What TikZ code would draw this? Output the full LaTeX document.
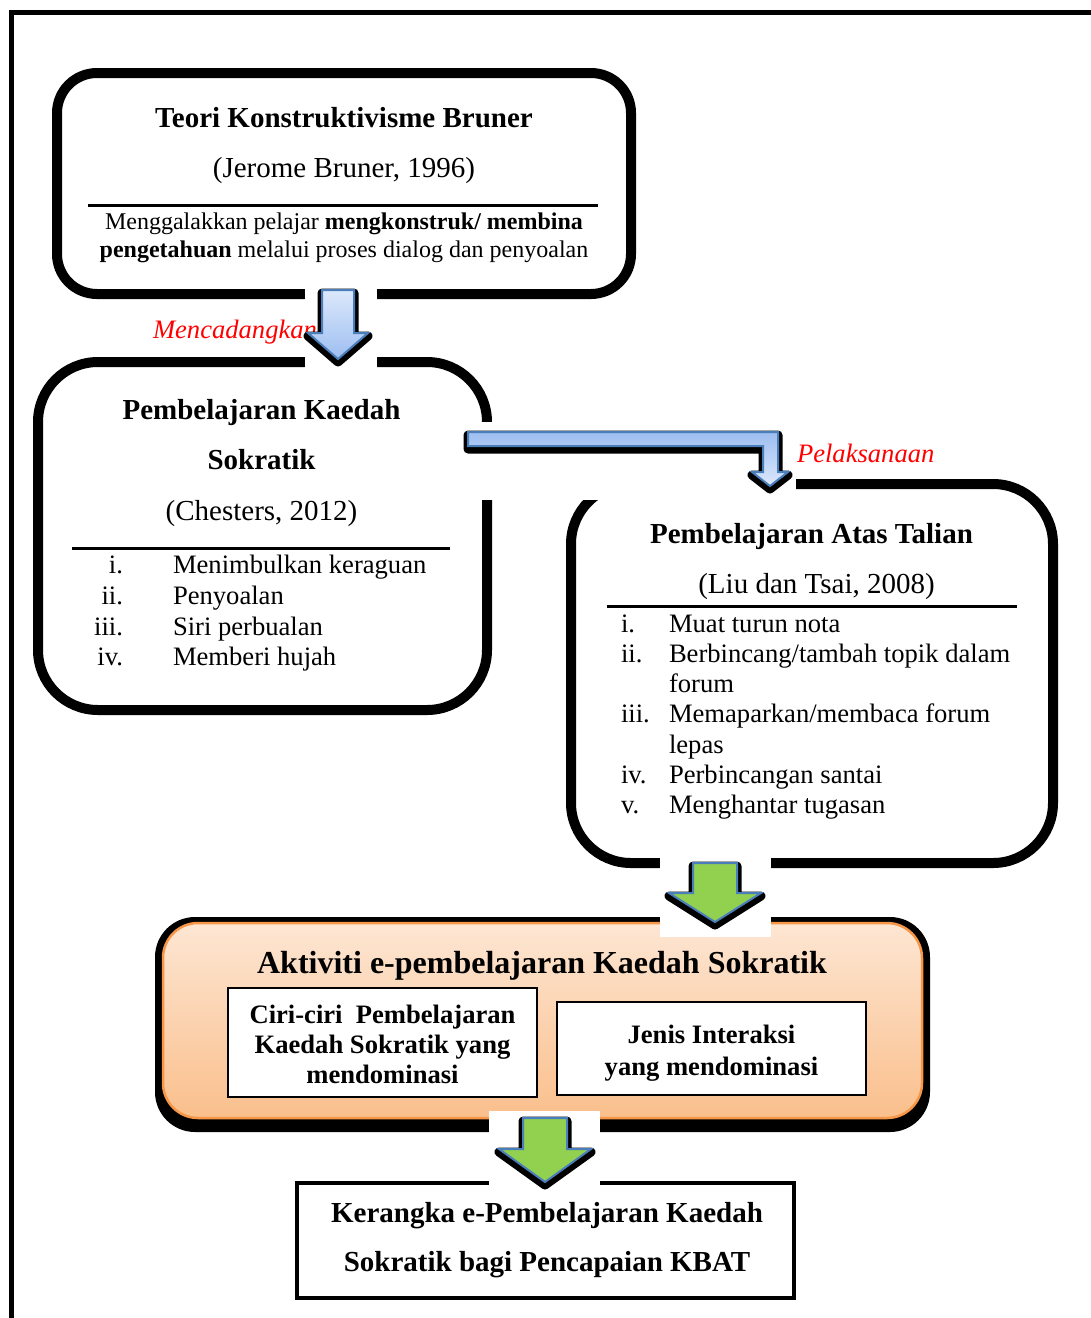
\documentclass[tikz,border=0pt]{standalone}
\usepackage{fontspec}
\setmainfont{Liberation Serif}
\definecolor{ablueA}{HTML}{DCE8FB}
\definecolor{ablueB}{HTML}{9DBEF1}
\definecolor{aline}{HTML}{4A7EBB}
\definecolor{agreen}{HTML}{92D050}
\definecolor{orgA}{HTML}{FDE6D3}
\definecolor{orgB}{HTML}{FABF8C}
\definecolor{orgLine}{HTML}{F79646}
\definecolor{lblred}{HTML}{FF0000}
\newcommand\fBody{\fontsize{26.6}{30}\selectfont}
\newcommand\fHead{\fontsize{29}{33}\selectfont}
\newcommand\fSmall{\fontsize{24}{28}\selectfont}
\newcommand\fBig{\fontsize{32}{36}\selectfont}
\begin{document}
\begin{tikzpicture}[x=1pt,y=-1pt,
  bigbox/.style={draw=black, line width=10pt, rounded corners=#1, inner sep=0pt, outer sep=0pt},
  txt/.style={inner sep=0pt, outer sep=0pt, anchor=base},
  lft/.style={inner sep=0pt, outer sep=0pt, anchor=base west},
  rgt/.style={inner sep=0pt, outer sep=0pt, anchor=base east},
  rulel/.style={line width=3pt},
  ashadow/.style={fill=black, draw=black, line width=9pt, line join=round},
  bluearrow/.style={draw=aline, line width=2pt, line join=miter},
  greenarrow/.style={fill=agreen, draw=aline, line width=2pt, line join=miter},
  gap/.style={fill=white, draw=none},
  lbl/.style={inner sep=0pt, outer sep=0pt, anchor=base west, text=lblred, font=\fBody\itshape}
]
\useasboundingbox (0,0) rectangle (1091,1318);
\clip (0,0) rectangle (1091,1318);
\fill[white] (0,0) rectangle (1091,1318);
% outer frame
\draw[line width=5pt] (11,1340) -- (11,12) -- (1110,12);

% main boxes
\node[bigbox=40pt, minimum width=574pt, minimum height=221pt] (b1) at (344,183.5) {};
\node[bigbox=60pt, minimum width=449pt, minimum height=348pt] (b2) at (262.5,536) {};
\node[bigbox=60pt, minimum width=482pt, minimum height=379pt] (b3) at (812,673.5) {};

% orange box
\fill[black, rounded corners=40pt] (155,917) rectangle (930,1132);
\node[draw=orgLine, line width=2.5pt, rounded corners=35pt, top color=orgA, bottom color=orgB,
      minimum width=759pt, minimum height=195pt, inner sep=0pt] (b4) at (542.5,1020.5) {};
\node[draw=black, line width=1.5pt, fill=white, minimum width=309pt, minimum height=109pt, inner sep=0pt] (c1) at (382.5,1042.5) {};
\node[draw=black, line width=1.5pt, fill=white, minimum width=309pt, minimum height=93pt, inner sep=0pt] (c2) at (711.5,1048.5) {};

% final box
\node[draw=black, line width=4pt, minimum width=497pt, minimum height=115pt, inner sep=0pt] (b5) at (545.5,1240.5) {};

% rules
\draw[rulel] (88,205) -- (598,205);
\draw[rulel] (72,548) -- (450,548);
\draw[rulel] (607,606) -- (1017,606);

% white backgrounds of block arrows
\fill[gap] (305,283) rectangle (377,372);
\fill[gap] (458,422) rectangle (796,500);
\fill[gap] (660,853) rectangle (771,937);
\fill[gap] (489,1111) rectangle (600,1192);

% red labels
\node[lbl] (l1) at (153,338) {Mencadangkan};
\node[lbl] (l2) at (797,462) {Pelaksanaan};

% arrow 1 (blue, down)
\path[ashadow, shift={(0,3)}] (322,290) -- (354,290) -- (354,333) -- (368,333) -- (338,359) -- (308,333) -- (322,333) -- cycle;
\path[bluearrow, top color=ablueA, bottom color=ablueB] (322,290) -- (354,290) -- (354,333) -- (368,333) -- (338,359) -- (308,333) -- (322,333) -- cycle;

% arrow 2 (blue, bent)
\path[ashadow, shift={(0,3)}] (468,432) -- (778,432) -- (778,472) -- (788,472) -- (770,486) -- (752,472) -- (763,472) -- (763,446) -- (468,446) -- cycle;
\path[bluearrow, top color=ablueB, bottom color=ablueA] (468,432) -- (778,432) -- (778,472) -- (788,472) -- (770,486) -- (752,472) -- (763,472) -- (763,446) -- (468,446) -- cycle;

% arrow 3 (green)
\path[ashadow, shift={(0,3)}] (693,863) -- (737,863) -- (737,893) -- (761,893) -- (715,922) -- (669,893) -- (693,893) -- cycle;
\path[greenarrow] (693,863) -- (737,863) -- (737,893) -- (761,893) -- (715,922) -- (669,893) -- (693,893) -- cycle;

% arrow 4 (green)
\path[ashadow, shift={(0,3)}] (523,1118) -- (567,1118) -- (567,1149) -- (591,1149) -- (545,1182) -- (499,1149) -- (523,1149) -- cycle;
\path[greenarrow] (523,1118) -- (567,1118) -- (567,1149) -- (591,1149) -- (545,1182) -- (499,1149) -- (523,1149) -- cycle;

% box 1 texts
\node[txt, font=\fHead\bfseries] (t11) at (344,127) {Teori Konstruktivisme Bruner};
\node[txt, font=\fHead] (t12) at (344,177) {(Jerome Bruner, 1996)};
\node[txt, font=\fSmall] (t13) at (344,229) {Menggalakkan pelajar \textbf{mengkonstruk/ membina}};
\node[txt, font=\fSmall] (t14) at (344,257) {\textbf{pengetahuan} melalui proses dialog dan penyoalan};

% box 2 texts
\node[txt, font=\fHead\bfseries] (t21) at (261.5,419) {Pembelajaran Kaedah};
\node[txt, font=\fHead\bfseries] (t22) at (261.5,469) {Sokratik};
\node[txt, font=\fHead] (t23) at (261.5,520) {(Chesters, 2012)};
\node[rgt, font=\fBody] (n21) at (123,573) {i.};
\node[rgt, font=\fBody] (n22) at (123,604) {ii.};
\node[rgt, font=\fBody] (n23) at (123,635) {iii.};
\node[rgt, font=\fBody] (n24) at (123,665) {iv.};
\node[lft, font=\fBody] (i21) at (173,573) {Menimbulkan keraguan};
\node[lft, font=\fBody] (i22) at (173,604) {Penyoalan};
\node[lft, font=\fBody] (i23) at (173,635) {Siri perbualan};
\node[lft, font=\fBody] (i24) at (173,665) {Memberi hujah};

% box 3 texts
\node[txt, font=\fHead\bfseries] (t31) at (811.5,543) {Pembelajaran Atas Talian};
\node[txt, font=\fHead] (t32) at (816.5,593) {(Liu dan Tsai, 2008)};
\node[lft, font=\fBody] (n31) at (621,632) {i.};
\node[lft, font=\fBody] (n32) at (621,662) {ii.};
\node[lft, font=\fBody] (n33) at (621,722) {iii.};
\node[lft, font=\fBody] (n34) at (621,783) {iv.};
\node[lft, font=\fBody] (n35) at (621,813) {v.};
\node[lft, font=\fBody] (i31) at (669,632) {Muat turun nota};
\node[lft, font=\fBody] (i32) at (669,662) {Berbincang/tambah topik dalam};
\node[lft, font=\fBody] (i32b) at (669,692) {forum};
\node[lft, font=\fBody] (i33) at (669,722) {Memaparkan/membaca forum};
\node[lft, font=\fBody] (i33b) at (669,753) {lepas};
\node[lft, font=\fBody] (i34) at (669,783) {Perbincangan santai};
\node[lft, font=\fBody] (i35) at (669,813) {Menghantar tugasan};

% orange box texts
\node[txt, font=\fBig\bfseries] (t41) at (542,973) {Aktiviti e-pembelajaran Kaedah Sokratik};
\node[txt, font=\fBody\bfseries] (t42) at (382.5,1023) {Ciri-ciri\ \ Pembelajaran};
\node[txt, font=\fBody\bfseries] (t43) at (382.5,1053) {Kaedah Sokratik yang};
\node[txt, font=\fBody\bfseries] (t44) at (382.5,1083) {mendominasi};
\node[txt, font=\fBody\bfseries] (t45) at (711.5,1043) {Jenis Interaksi};
\node[txt, font=\fBody\bfseries] (t46) at (711.5,1075) {yang mendominasi};

% final box texts
\node[txt, font=\fHead\bfseries] (t51) at (547,1222) {Kerangka e-Pembelajaran Kaedah};
\node[txt, font=\fHead\bfseries] (t52) at (547,1271) {Sokratik bagi Pencapaian KBAT};
\end{tikzpicture}
\end{document}
